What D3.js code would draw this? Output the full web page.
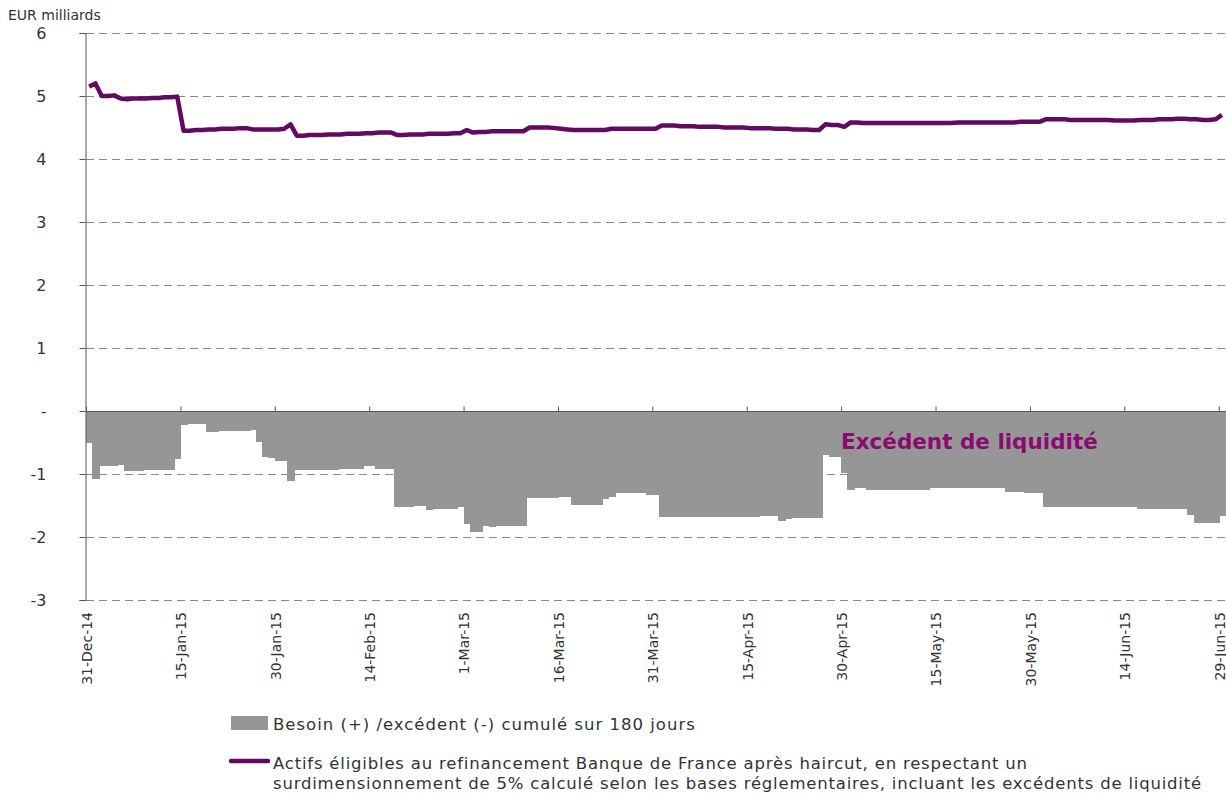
<!DOCTYPE html>
<html>
<head>
<meta charset="utf-8">
<script src="https://cdn.jsdelivr.net/npm/d3@7"></script>
<style>
	body { margin: 0; background: #fff; }
	text { font-family: "DejaVu Sans", Verdana, sans-serif; fill: #333; }
</style>
</head>
<body>
<svg width="1226" height="794"></svg>
<script>
// daily series, one value per day from 31-Dec-14 to 29-Jun-15
var startDay = "31-Dec-14";

// besoin (+) / excedent (-) cumule sur 180 jours
var besoin = [
	-0.50,-1.08,-0.87,-0.87,-0.87,-0.86,-0.95,-0.95,-0.95,-0.94,
	-0.94,-0.94,-0.94,-0.94,-0.76,-0.22,-0.21,-0.21,-0.21,-0.33,
	-0.33,-0.32,-0.32,-0.32,-0.32,-0.32,-0.30,-0.49,-0.73,-0.75,
	-0.79,-0.79,-1.11,-0.94,-0.94,-0.94,-0.94,-0.94,-0.94,-0.94,
	-0.92,-0.92,-0.92,-0.92,-0.87,-0.87,-0.92,-0.92,-0.92,-1.52,
	-1.52,-1.52,-1.51,-1.51,-1.57,-1.55,-1.55,-1.55,-1.55,-1.52,
	-1.79,-1.92,-1.92,-1.83,-1.84,-1.82,-1.82,-1.82,-1.82,-1.82,
	-1.38,-1.38,-1.38,-1.38,-1.38,-1.37,-1.37,-1.49,-1.49,-1.49,
	-1.49,-1.49,-1.39,-1.37,-1.30,-1.30,-1.30,-1.30,-1.30,-1.33,
	-1.33,-1.69,-1.69,-1.69,-1.69,-1.69,-1.69,-1.68,-1.68,-1.68,
	-1.68,-1.68,-1.68,-1.68,-1.68,-1.68,-1.68,-1.67,-1.67,-1.67,
	-1.74,-1.72,-1.70,-1.70,-1.70,-1.70,-1.70,-0.70,-0.73,-0.73,
	-0.98,-1.25,-1.23,-1.23,-1.25,-1.25,-1.25,-1.25,-1.25,-1.25,
	-1.25,-1.25,-1.25,-1.25,-1.23,-1.23,-1.23,-1.23,-1.23,-1.23,
	-1.23,-1.23,-1.23,-1.22,-1.22,-1.23,-1.28,-1.28,-1.28,-1.30,
	-1.30,-1.30,-1.52,-1.52,-1.52,-1.52,-1.52,-1.52,-1.52,-1.53,
	-1.53,-1.53,-1.53,-1.53,-1.53,-1.53,-1.53,-1.55,-1.55,-1.55,
	-1.55,-1.55,-1.55,-1.55,-1.55,-1.65,-1.77,-1.77,-1.77,-1.77,
	-1.67
];

// actifs eligibles BdF apres haircut
var actifs = [
	5.15,5.20,5.00,5.00,5.01,4.96,4.95,4.96,4.96,4.96,
	4.97,4.97,4.98,4.98,4.99,4.45,4.45,4.46,4.46,4.47,
	4.47,4.48,4.48,4.48,4.49,4.49,4.47,4.47,4.47,4.47,
	4.47,4.48,4.55,4.37,4.37,4.38,4.38,4.38,4.39,4.39,
	4.39,4.40,4.40,4.40,4.41,4.41,4.42,4.42,4.42,4.38,
	4.38,4.39,4.39,4.39,4.40,4.40,4.40,4.40,4.41,4.41,
	4.46,4.42,4.43,4.43,4.44,4.44,4.44,4.44,4.44,4.44,
	4.50,4.50,4.50,4.50,4.49,4.48,4.47,4.46,4.46,4.46,
	4.46,4.46,4.46,4.48,4.48,4.48,4.48,4.48,4.48,4.48,
	4.48,4.53,4.53,4.53,4.52,4.52,4.52,4.51,4.51,4.51,
	4.51,4.50,4.50,4.50,4.50,4.49,4.49,4.49,4.49,4.48,
	4.48,4.48,4.47,4.47,4.47,4.46,4.46,4.55,4.54,4.54,
	4.51,4.58,4.58,4.57,4.57,4.57,4.57,4.57,4.57,4.57,
	4.57,4.57,4.57,4.57,4.57,4.57,4.57,4.57,4.58,4.58,
	4.58,4.58,4.58,4.58,4.58,4.58,4.58,4.58,4.59,4.59,
	4.59,4.59,4.63,4.63,4.63,4.63,4.62,4.62,4.62,4.62,
	4.62,4.62,4.62,4.61,4.61,4.61,4.61,4.62,4.62,4.62,
	4.63,4.63,4.63,4.64,4.64,4.63,4.63,4.62,4.62,4.63,
	4.70
];

var tickLabels = ["31-Dec-14","15-Jan-15","30-Jan-15","14-Feb-15","1-Mar-15","16-Mar-15",
	"31-Mar-15","15-Apr-15","30-Apr-15","15-May-15","30-May-15","14-Jun-15","29-Jun-15"];
var yTicks = [6, 5, 4, 3, 2, 1, 0, -1, -2, -3];

var seriesNames = ["Besoin (+) /excédent (-) cumulé sur 180 jours",
	"Actifs éligibles au refinancement Banque de France après haircut, en respectant un",
	"surdimensionnement de 5% calculé selon les bases réglementaires, incluant les excédents de liquidité"];

var parseDay = d3.timeParse("%d-%b-%y");

var svg = d3.select("svg"),
	plotLeft = 86, plotRight = 1225,
	plotTop = 33, plotBottom = 600,
	barColor = "#969696",
	lineColor = "#620a62";

var day0 = parseDay(startDay);
var days = besoin.map(function(v, i) { return d3.timeDay.offset(day0, i); });

var x = d3.scaleTime()
	.domain([day0, d3.timeDay.offset(day0, besoin.length)])
	.range([plotLeft, plotRight]);

var y = d3.scaleLinear()
	.domain([-3, 6])
	.range([plotBottom, plotTop]);

var bw = x(days[1]) - x(days[0]);

// dashed grid lines (not at zero, the axis sits there)
svg.append("g").selectAll("line")
	.data(yTicks.filter(function(d) { return d !== 0; }))
	.enter().append("line")
		.attr("x1", plotLeft).attr("x2", 1226)
		.attr("y1", function(d) { return Math.round(y(d)) + 0.5; })
		.attr("y2", function(d) { return Math.round(y(d)) + 0.5; })
		.attr("stroke", "#8a8a8a")
		.attr("stroke-dasharray", "8,5");

// bars, a bit wider so no seams show between days
svg.append("g")
	.attr("shape-rendering", "crispEdges")
	.selectAll("rect")
	.data(besoin)
	.enter().append("rect")
		.attr("x", function(d, i) { return x(days[i]); })
		.attr("width", bw + 1)
		.attr("y", y(0))
		.attr("height", function(d) { return y(d) - y(0); })
		.attr("fill", barColor);

// y axis
var yAxis = svg.append("g")
	.attr("transform", "translate(" + (plotLeft - 0.5) + ",0)")
	.call(d3.axisLeft(y).tickValues(yTicks).tickSize(6)
		.tickFormat(function(d) { return d === 0 ? "-" : String(d); }));
yAxis.select(".domain").attr("stroke", "#555");
yAxis.selectAll(".tick line").attr("stroke", "#555");
yAxis.selectAll(".tick text")
	.attr("x", -39)
	.style("font-size", "16px")
	.style("font-family", "'DejaVu Sans', Verdana, sans-serif")
	.attr("fill", "#333");

// x axis on zero with ticks pointing up, labels at the bottom
var xTickDates = tickLabels.map(parseDay);
var xAxis = svg.append("g")
	.attr("transform", "translate(0," + (Math.round(y(0)) + 0.5) + ")")
	.call(d3.axisTop(x).tickValues(xTickDates).tickSize(5).tickFormat(""));
xAxis.select(".domain").attr("stroke", "#555").attr("d", "M" + plotLeft + ",0H1226");
xAxis.selectAll(".tick line").attr("stroke", "#555");

svg.append("g").selectAll("text")
	.data(xTickDates)
	.enter().append("text")
		.attr("transform", function(d) { return "translate(" + (x(d) + 1) + "," + (plotBottom + 12) + ") rotate(-90)"; })
		.attr("text-anchor", "end")
		.attr("dy", "0.35em")
		.style("font-size", "14px")
		.text(function(d, i) { return tickLabels[i]; });

// line
var line = d3.line()
	.x(function(d, i) { return x(days[i]) + bw / 2; })
	.y(function(d) { return y(d); });

svg.append("path")
	.datum(actifs)
	.attr("d", line)
	.attr("fill", "none")
	.attr("stroke", lineColor)
	.attr("stroke-width", 4.5)
	.attr("stroke-linejoin", "round");

// annotation
svg.append("text")
	.attr("x", 841).attr("y", 449)
	.style("font-size", "21.5px")
	.style("font-weight", "bold")
	.style("fill", "#8b0a72")
	.text("Excédent de liquidité");

svg.append("text")
	.attr("x", 8).attr("y", 20)
	.style("font-size", "14px")
	.text("EUR milliards");

// legend
var legend = svg.append("g").style("font-size", "16.5px");
legend.append("rect")
	.attr("x", 231).attr("y", 716).attr("width", 37).attr("height", 14)
	.attr("fill", barColor);
legend.append("text").attr("x", 273).attr("y", 730)
	.style("letter-spacing", "1px").text(seriesNames[0]);
legend.append("line")
	.attr("x1", 231).attr("x2", 268).attr("y1", 761).attr("y2", 761)
	.attr("stroke", lineColor).attr("stroke-width", 4.5).attr("stroke-linecap", "round");
legend.append("text").attr("x", 273).attr("y", 769)
	.style("letter-spacing", "0.8px").text(seriesNames[1]);
legend.append("text").attr("x", 273).attr("y", 789)
	.style("letter-spacing", "0.8px").text(seriesNames[2]);
</script>
</body>
</html>
